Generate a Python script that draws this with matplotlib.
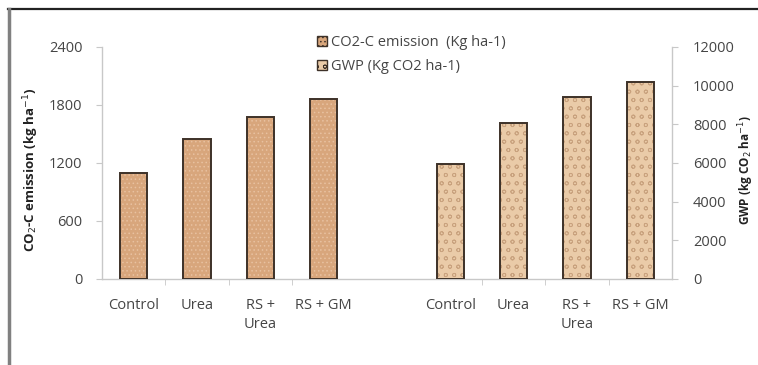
import matplotlib
matplotlib.use("Agg")
import matplotlib.pyplot as plt
from matplotlib.lines import Line2D
from matplotlib.patches import Patch
import numpy as np

categories = ["Control", "Urea", "RS +\nUrea", "RS + GM"]
co2_emission = [1100, 1450, 1680, 1860]       # kg ha-1 (left axis)
gwp = [5930, 8090, 9400, 10200]               # kg CO2 ha-1 (right axis)
left_ticks = [0, 600, 1200, 1800, 2400]
right_ticks = [0, 2000, 4000, 6000, 8000, 10000, 12000]
legend_labels = ["CO2-C emission  (Kg ha-1)", "GWP (Kg CO2 ha-1)"]

plt.rcParams['font.family'] = ['Open Sans', 'DejaVu Sans']
plt.rcParams['hatch.linewidth'] = 0.6

fig = plt.figure(figsize=(7.58, 3.65), dpi=100)
ax = fig.add_axes([102/758, 1-279/365, 570/758, 232/365])
ax2 = ax.twinx()

pos1 = np.arange(len(categories))
pos2 = pos1 + len(categories) + 1
w = 0.43

fill1 = '#D8A67C'
fill2 = '#EACBA8'
edge = '#3d3128'
txt = '#454545'

# CO2-C bars
ax.bar(pos1, co2_emission, width=w, color=fill1, edgecolor='#E8C1A0', hatch='....', linewidth=0, zorder=2)
ax.bar(pos1, co2_emission, width=w, color='none', edgecolor=edge, linewidth=1.4, zorder=3)
# GWP bars
ax2.bar(pos2, gwp, width=w, color=fill2, edgecolor='#C9A27E', hatch='oo', linewidth=0, zorder=2)
ax2.bar(pos2, gwp, width=w, color='none', edgecolor=edge, linewidth=1.4, zorder=3)

ax.set_xlim(-0.5, pos2[-1] + 0.5)
ax.set_ylim(0, 2400)
ax2.set_ylim(0, 12000)
ax.set_yticks(left_ticks)
ax2.set_yticks(right_ticks)

ax.set_xticks(list(pos1) + list(pos2))
ax.set_xticklabels(categories + categories)
ax.set_xticks(list(pos1[:-1] + 0.5) + list(pos2[:-1] + 0.5), minor=True)
ax.tick_params(axis='x', which='major', length=0, pad=14, labelsize=10.5, colors=txt)
ax.tick_params(axis='x', which='minor', length=4, color='#c8c8c8', direction='out')
ax.tick_params(axis='y', length=4, color='#c8c8c8', labelsize=10.5, labelcolor=txt, pad=10)
ax2.tick_params(axis='y', length=4, color='#c8c8c8', labelsize=10.5, labelcolor=txt, pad=11)
for lab in ax.get_xticklabels():
    lab.set_linespacing(1.3)

for a in (ax, ax2):
    a.spines['top'].set_visible(False)
    for s in ('left', 'right', 'bottom'):
        a.spines[s].set_color('#c8c8c8')
        a.spines[s].set_linewidth(1.0)
ax.spines['right'].set_visible(False)
ax2.spines['left'].set_visible(False)
ax2.spines['bottom'].set_visible(False)

ax.set_ylabel("CO$_2$-C emission (kg ha$^{-1}$)", fontsize=9.5, fontweight='bold', color='#222222')
ax.yaxis.set_label_coords((41 - 102) / 570, 0.47)
ax2.set_ylabel("GWP (kg CO$_2$ ha$^{-1}$)", fontsize=8.5, fontweight='bold', color='#222222')
ax2.yaxis.set_label_coords((736 - 102) / 570, 0.47)

# legend
handles = [Patch(facecolor=fill1, edgecolor=edge, hatch='....', linewidth=1.0),
           Patch(facecolor=fill2, edgecolor=edge, hatch='oo', linewidth=1.0)]
leg = fig.legend(handles, legend_labels,
                 loc='upper left', bbox_to_anchor=(304/758, 1-22/365), frameon=False,
                 fontsize=10.5, handlelength=0.65, handleheight=0.65, handletextpad=0.3,
                 labelspacing=0.6, labelcolor=txt)

# outer frame
fig.add_artist(Line2D([8/758, 1], [1-9/365, 1-9/365], color='#222222', linewidth=1.6))
fig.add_artist(Line2D([9/758, 9/758], [0, 1-9/365], color='#808080', linewidth=2.5))

fig.savefig("out.png", dpi=100)
